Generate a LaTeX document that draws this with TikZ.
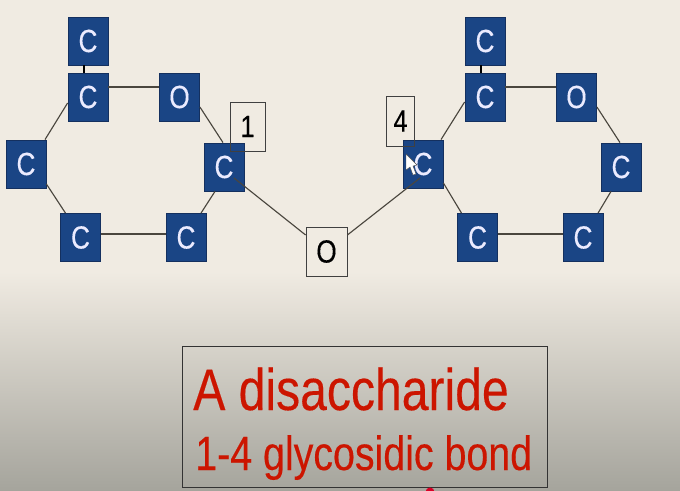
\documentclass[tikz,border=0pt]{standalone}
\usepackage{fontspec}
\setmainfont{Liberation Sans}
\newfontfamily\tallfont[FakeStretch=0.82,FakeBold=0.25]{Liberation Sans}
\definecolor{bgtop}{HTML}{F0EBE2}
\definecolor{bgbot}{HTML}{A5A49C}
\definecolor{atomblue}{HTML}{1A4585}
\definecolor{atomedge}{HTML}{14305F}
\definecolor{bondgray}{HTML}{4A463E}
\definecolor{redtext}{HTML}{CC1500}
\tikzset{
  atom/.style={draw=atomedge,line width=0.6pt,fill=atomblue,text=white!92!blue,minimum width=30pt,minimum height=36pt,inner sep=0pt,font=\tallfont\fontsize{24}{24}\selectfont},
  label box/.style={draw=black!75,line width=0.6pt,inner sep=0pt,text=black,font=\tallfont\fontsize{23}{23}\selectfont},
  bond/.style={draw=bondgray,line width=0.85pt},
  thickbond/.style={draw=black,line width=1.6pt},
  banner/.style={anchor=base west,inner sep=0pt,text=redtext},
}
\begin{document}
\begin{tikzpicture}[x=0.75pt,y=-0.75pt]
\useasboundingbox (0,0) rectangle (680,491);
\fill[bgtop] (0,0) rectangle (680,272);
\shade[top color=bgtop,bottom color=bgbot,draw=none] (0,271.5) rectangle (680,491);
% left ring
\node[atom] (lt) at (88,41) {C};
\node[atom] (la) at (88,97) {C};
\node[atom] (lo) at (179.5,97) {O};
\node[atom] (lb) at (224,167) {C};
\node[atom] (lc) at (186,237.5) {C};
\node[atom] (ld) at (80.5,237.5) {C};
\node[atom] (le) at (26,164) {C};
% right ring
\node[atom] (rt) at (485,41) {C};
\node[atom] (ra) at (485,97) {C};
\node[atom] (ro) at (576.5,97) {O};
\node[atom] (rb) at (621,167) {C};
\node[atom] (rc) at (583,237.5) {C};
\node[atom] (rd) at (477.5,237.5) {C};
\node[atom] (re) at (423,164) {C};
% bridge and numbers
\node[label box,minimum width=30.75pt,minimum height=36.75pt,font=\tallfont\fontsize{24}{24}\selectfont] (ob) at (326.5,251.5) {O};
\node[label box,minimum width=26.25pt,minimum height=36.75pt] (one) at (247.5,126.5) {1};
\node[label box,minimum width=21pt,minimum height=37.5pt] (four) at (400.5,121) {4};
% bonds
\draw[thickbond] ([shift={(-4,0)}]lt.south) -- ([shift={(-4,0)}]la.north);
\draw[thickbond] ([shift={(-4,0)}]rt.south) -- ([shift={(-4,0)}]ra.north);
\draw[bond] ([shift={(0,-10)}]la.east) -- ([shift={(0,-10)}]lo.west);
\draw[bond] ([shift={(0,6)}]la.west) -- ([shift={(19,0)}]le.north);
\draw[bond] ([shift={(0,10)}]lo.east) -- ([shift={(-1,0)}]lb.north);
\draw[bond] ([shift={(-9,0)}]lb.south) -- ([shift={(15,0)}]lc.north);
\draw[bond] ([shift={(0,-3.5)}]lc.west) -- ([shift={(0,-3.5)}]ld.east);
\draw[bond] ([shift={(-15,0)}]ld.north) -- ([shift={(0,20)}]le.east);
\draw[bond] ([shift={(10,11)}]lb.center) -- ([shift={(0,-16.5)}]ob.west);
\draw[bond] ([shift={(0,5)}]ra.west) -- ([shift={(18,0)}]re.north);
\draw[bond] ([shift={(0,-10)}]ra.east) -- ([shift={(0,-10)}]ro.west);
\draw[bond] ([shift={(0,10)}]ro.east) -- ([shift={(-1,0)}]rb.north);
\draw[bond] ([shift={(-10,0)}]rb.south) -- ([shift={(15,0)}]rc.north);
\draw[bond] ([shift={(0,-3.5)}]rc.west) -- ([shift={(0,-3.5)}]rd.east);
\draw[bond] ([shift={(-16,0)}]rd.north) -- ([shift={(0,19)}]re.east);
\draw[bond] ([shift={(-3,14)}]re.center) -- ([shift={(0,-16.5)}]ob.east);
% cursor
\fill[white,draw=black!70,line width=0.3pt] (406,154) -- (406,170) -- (410,167) -- (413,175) -- (416,174) -- (413,166) -- (417,165) -- cycle;
% banner
\node[draw=black!80,line width=0.7pt,minimum width=273.75pt,minimum height=105.75pt,inner sep=0pt] (bannerbox) at (364.75,416.5) {};
\node[banner,font=\tallfont\fontsize{44}{44}\selectfont] (line1) at (193,410) {A disaccharide};
\node[banner,font=\tallfont\fontsize{36}{36}\selectfont] (line2) at (195,470) {1-4 glycosidic bond};
% pointer dot
\begin{scope}
\clip (0,0) rectangle (680,491);
\fill[red!85!blue] (430,492) circle[radius=4.5];
\end{scope}
\end{tikzpicture}
\end{document}
